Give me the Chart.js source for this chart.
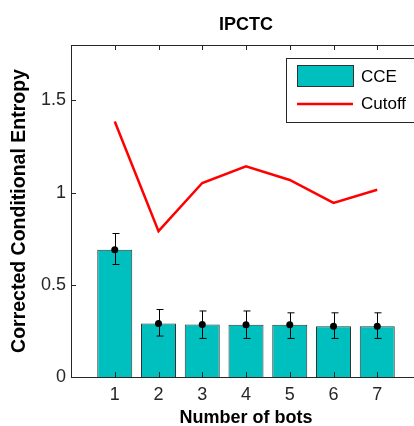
<!DOCTYPE html>
<html>
<head>
<meta charset="utf-8">
<script src="https://cdn.jsdelivr.net/npm/chart.js@4.4.1/dist/chart.umd.min.js"></script>
<style>
  html, body { margin: 0; padding: 0; background: #fff; overflow: hidden; }
  #wrap { width: 414px; height: 426px; overflow: hidden; }
  canvas { display: block; }
</style>
</head>
<body>
<div id="wrap"><canvas id="cce" width="450" height="426"></canvas></div>
<script>
// values
const bots = [1, 2, 3, 4, 5, 6, 7];
const cceMean = [0.69, 0.29, 0.285, 0.283, 0.283, 0.275, 0.275];
const cceLow = [0.61, 0.222, 0.209, 0.209, 0.209, 0.209, 0.209];
const cceHigh = [0.778, 0.366, 0.358, 0.358, 0.348, 0.348, 0.348];
const cutoff = [1.385, 0.791, 1.052, 1.142, 1.068, 0.944, 1.015];
const yTicks = [0, 0.5, 1, 1.5];

const FONT = '"Liberation Sans", Arial, Helvetica, sans-serif';
const AXIS = '#262626';
const CYAN = 'rgb(0,191,191)';

// box, inward ticks, title, error bars, legend - matlab style
const matlabBox = {
  id: 'matlabBox',
  afterDatasetsDraw(chart) {
    const ctx = chart.ctx, a = chart.chartArea;
    const xs = chart.scales.x, ys = chart.scales.y;
    ctx.save();

    // error bars
    ctx.strokeStyle = '#000';
    ctx.lineWidth = 1;
    bots.forEach((b, i) => {
      const px = Math.round(xs.getPixelForValue(b)) + 0.5;
      const top = ys.getPixelForValue(cceHigh[i]);
      const bot = ys.getPixelForValue(cceLow[i]);
      ctx.beginPath();
      ctx.moveTo(px, top); ctx.lineTo(px, bot);
      ctx.moveTo(px - 3, top); ctx.lineTo(px + 4, top);
      ctx.moveTo(px - 3, bot); ctx.lineTo(px + 4, bot);
      ctx.stroke();
    });

    // axes box
    ctx.strokeStyle = AXIS;
    ctx.strokeRect(Math.round(a.left) + 0.5, Math.round(a.top) + 0.5,
                   Math.round(a.right - a.left), Math.round(a.bottom - a.top));

    // inward ticks
    ctx.beginPath();
    bots.forEach(b => {
      const px = Math.round(xs.getPixelForValue(b)) + 0.5;
      ctx.moveTo(px, a.top); ctx.lineTo(px, a.top + 5);
      ctx.moveTo(px, a.bottom); ctx.lineTo(px, a.bottom - 5);
    });
    yTicks.forEach(v => {
      const py = Math.round(ys.getPixelForValue(v)) + 0.5;
      ctx.moveTo(a.left, py); ctx.lineTo(a.left + 5, py);
      ctx.moveTo(a.right, py); ctx.lineTo(a.right - 5, py);
    });
    ctx.stroke();

    // title
    ctx.fillStyle = '#000';
    ctx.font = 'bold 18px ' + FONT;
    ctx.textAlign = 'center';
    ctx.textBaseline = 'middle';
    ctx.fillText('IPCTC', (a.left + a.right) / 2, 25);

    // legend
    const lx = a.right - 135, ly = a.top + 13;
    ctx.fillStyle = '#fff';
    ctx.fillRect(lx, ly, 129, 64);
    ctx.strokeStyle = AXIS;
    ctx.strokeRect(lx + 0.5, ly + 0.5, 129, 64);
    ctx.fillStyle = CYAN;
    ctx.fillRect(lx + 11, ly + 7, 56, 21);
    ctx.strokeStyle = '#333';
    ctx.strokeRect(lx + 11.5, ly + 7.5, 56, 21);
    ctx.strokeStyle = '#ff0000';
    ctx.lineWidth = 2.5;
    ctx.beginPath();
    ctx.moveTo(lx + 11, ly + 46); ctx.lineTo(lx + 67, ly + 46);
    ctx.stroke();
    ctx.fillStyle = '#000';
    ctx.font = '17px ' + FONT;
    ctx.textAlign = 'left';
    ctx.fillText('CCE', lx + 75, ly + 19);
    ctx.fillText('Cutoff', lx + 75, ly + 46);
    ctx.restore();
  }
};

new Chart(document.getElementById('cce'), {
  data: {
    datasets: [
      {
        type: 'scatter',
        label: 'mean',
        data: bots.map((b, i) => ({ x: b, y: cceMean[i] })),
        pointRadius: 3.5,
        pointBackgroundColor: '#000',
        pointBorderWidth: 0,
        order: 0
      },
      {
        type: 'line',
        label: 'Cutoff',
        data: bots.map((b, i) => ({ x: b, y: cutoff[i] })),
        borderColor: '#ff0000',
        borderWidth: 2.5,
        pointRadius: 0,
        tension: 0,
        order: 1
      },
      {
        type: 'bar',
        label: 'CCE',
        data: bots.map((b, i) => ({ x: b, y: cceMean[i] })),
        backgroundColor: CYAN,
        borderColor: '#333',
        borderWidth: 1,
        barPercentage: 0.8,
        categoryPercentage: 1,
        order: 2
      }
    ]
  },
  options: {
    responsive: false,
    animation: false,
    layout: { padding: { top: 45, right: 29, left: 0, bottom: 0 } },
    plugins: { legend: { display: false }, tooltip: { enabled: false } },
    scales: {
      x: {
        type: 'linear',
        offset: false,
        min: 0, max: 8,
        afterBuildTicks: s => { s.ticks = bots.map(v => ({ value: v })); },
        afterFit: s => { s.height = 49; },
        grid: { display: false, drawTicks: false },
        border: { display: false },
        ticks: { padding: 7, color: AXIS, font: { family: FONT, size: 18 }, maxRotation: 0 },
        title: { display: true, text: 'Number of bots', color: '#000', padding: { top: 0, bottom: -3 },
                 font: { family: FONT, size: 18, weight: 'bold' } }
      },
      y: {
        min: 0, max: 1.8,
        afterBuildTicks: s => { s.ticks = yTicks.map(v => ({ value: v })); },
        afterFit: s => { s.width = 71; },
        grid: { display: false, drawTicks: false },
        border: { display: false },
        ticks: { padding: 5, color: AXIS, font: { family: FONT, size: 18 },
                 callback: v => String(v) },
        title: { display: true, text: 'Corrected Conditional Entropy', color: '#000', padding: { top: 8, bottom: 0 },
                 font: { family: FONT, size: 19.5, weight: 'bold' } }
      }
    }
  },
  plugins: [matlabBox]
});
</script>
</body>
</html>
